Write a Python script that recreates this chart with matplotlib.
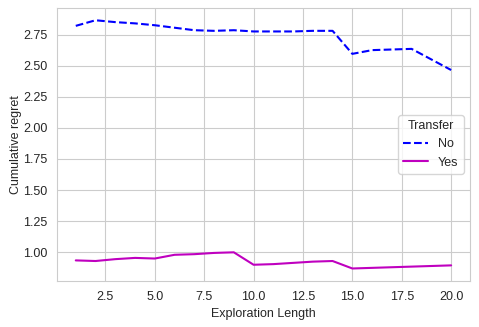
import matplotlib
matplotlib.use("Agg")
import matplotlib.pyplot as plt
import seaborn as sns

sns.set_style("whitegrid")
plt.rcParams['font.family'] = ['Liberation Sans', 'DejaVu Sans']
plt.rcParams['font.size'] = 9
plt.rcParams['axes.labelsize'] = 9
plt.rcParams['xtick.labelsize'] = 9
plt.rcParams['ytick.labelsize'] = 9
plt.rcParams['legend.fontsize'] = 9
plt.rcParams['legend.title_fontsize'] = 9

# exploration lengths
length = list(range(1, 21))
# cumulative regret without transfer
regret_no = [2.82, 2.865, 2.85, 2.84, 2.825, 2.805, 2.785, 2.78, 2.785, 2.775,
             2.775, 2.775, 2.78, 2.78, 2.595, 2.625, 2.63, 2.635, 2.55, 2.465]
# cumulative regret with transfer
regret_yes = [0.935, 0.93, 0.945, 0.955, 0.95, 0.98, 0.985, 0.995, 1.0, 0.9,
              0.905, 0.915, 0.925, 0.93, 0.87, 0.875, 0.88, 0.885, 0.89, 0.895]

fig, ax = plt.subplots(figsize=(4.79, 3.27), dpi=100)
ax.plot(length, regret_no, 'b--', label='No')
ax.plot(length, regret_yes, 'm-', label='Yes')
ax.set_xlabel('Exploration Length')
ax.set_ylabel('Cumulative regret', labelpad=1)
ax.legend(title='Transfer', loc='center right')
fig.subplots_adjust(left=0.119, right=0.981, top=0.976, bottom=0.141)
fig.savefig('out.png')
